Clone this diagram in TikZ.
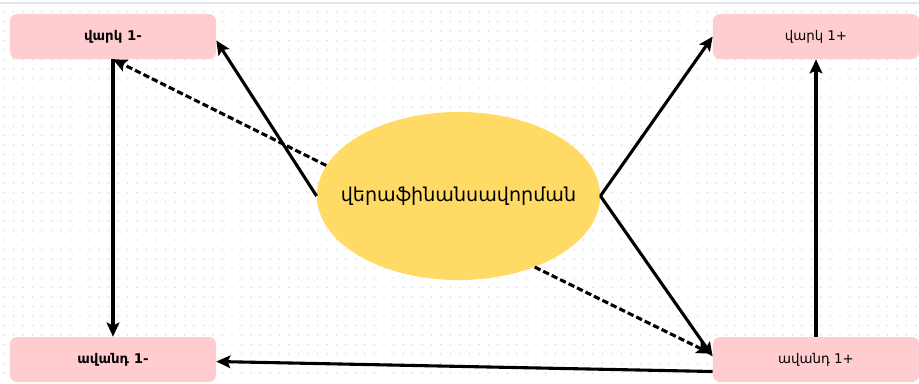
\documentclass[tikz,border=0pt]{standalone}
\usepackage{fontspec}
\setmainfont{DejaVu Sans}
\usepackage{xcolor}
\usepackage{tikz}
\usetikzlibrary{shapes.geometric,arrows.meta,positioning,calc}

\definecolor{boxpink}{RGB}{255,204,208}
\definecolor{coreyellow}{RGB}{255,219,102}
\definecolor{griddot}{RGB}{222,222,222}
\definecolor{topline}{RGB}{228,228,228}

\begin{document}
\begin{tikzpicture}[
  x=0.025cm, y=-0.025cm,
  acct/.style={rectangle, rounded corners=5pt, fill=boxpink, minimum width=5.15cm, minimum height=1.125cm, text centered, font=\fontsize{9.5}{11}\selectfont},
  core/.style={ellipse, fill=coreyellow, minimum width=7.08cm, minimum height=4.2cm, inner xsep=-16pt, inner ysep=0pt, font=\fontsize{13.6}{16}\selectfont},
  arrow/.style={-{Stealth[length=10pt, width=9pt, inset=2pt]}, line width=2.2pt},
  dasharrow/.style={arrow, dash pattern=on 4.5pt off 2.2pt}
]
% background
\useasboundingbox (0,0) rectangle (919,383);
\fill[white] (0,0) rectangle (919,383);
\foreach \i in {0,...,96}
  \foreach \j in {0,...,38}
    \fill[griddot] (4+\i*9.5, 12+\j*9.5) circle[radius=0.6pt];
\draw[topline, line width=0.8pt] (0,3) -- (919,3);

% accounts and the centre
\node[acct, font=\fontsize{9.5}{11}\selectfont\bfseries] (vm) at (113,36.5) {վարկ 1-};
\node[acct] (vp) at (816,36.5) {վարկ 1+};
\node[acct, font=\fontsize{9.5}{11}\selectfont\bfseries] (am) at (113,359.5) {ավանդ 1-};
\node[acct] (ap) at (816,359.5) {ավանդ 1+};
\node[core] (ell) at (458.5,196) {վերաֆինանսավորման};

% flows
\draw[arrow] (ell.west) -- ($(vm.east)+(0,4)$);
\draw[dasharrow] (ell.167) -- (vm.south);
\draw[arrow] (vm.south) -- (am.north);
\draw[arrow] (ell.east) -- (vp.west);
\draw[arrow] (ell.east) -- ($(ap.west)+(0,-3)$);
\draw[dasharrow] (ell.-43) -- ($(ap.west)+(-2,-6)$);
\draw[arrow] ($(ap.west)+(0,12)$) -- ($(am.east)+(0,2)$);
\draw[arrow] (ap.north) -- (vp.south);
\end{tikzpicture}
\end{document}
